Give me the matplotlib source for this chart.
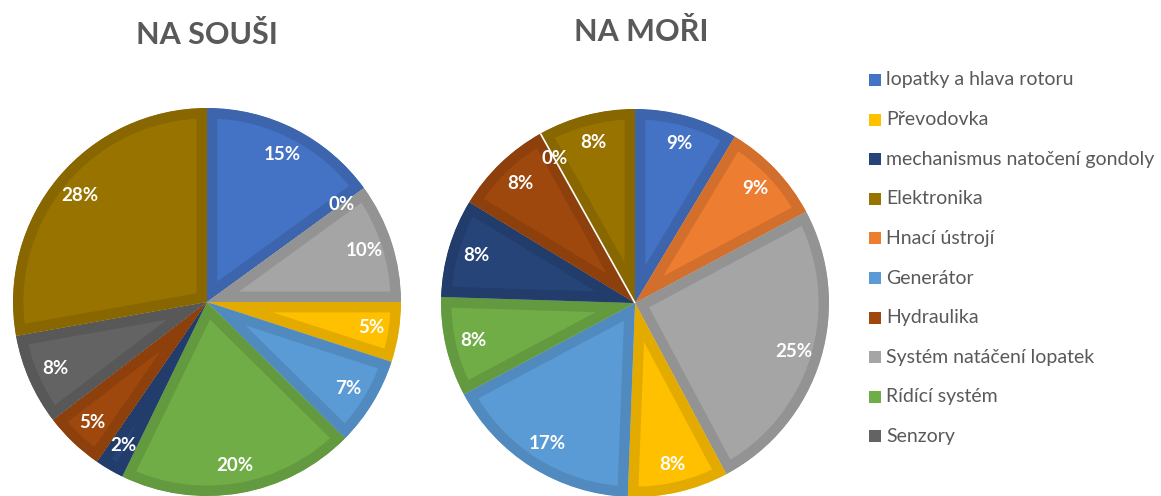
import matplotlib
matplotlib.use("Agg")
import matplotlib.pyplot as plt
from matplotlib.patches import Rectangle
import matplotlib.colors as mcolors
import numpy as np

# ---- data -------------------------------------------------------------
# pie order (clockwise from 12 o'clock)
categories = ["lopatky a hlava rotoru", "Hnací ústrojí", "Systém natáčení lopatek",
              "Převodovka", "Generátor", "Rídící systém",
              "mechanismus natočení gondoly", "Hydraulika", "Senzory", "Elektronika"]
onshore = [15.0, 0.0, 10.0, 5.0, 7.4, 19.8, 2.4, 5.0, 7.6, 27.8]
offshore = [8.6, 8.6, 25.0, 8.4, 16.6, 8.3, 8.2, 8.2, 0.0, 8.1]
colors = {"lopatky a hlava rotoru": "#4472C4", "Hnací ústrojí": "#ED7D31",
          "Systém natáčení lopatek": "#A5A5A5", "Převodovka": "#FFC000",
          "Generátor": "#5B9BD5", "Rídící systém": "#70AD47",
          "mechanismus natočení gondoly": "#264478", "Hydraulika": "#9E480E",
          "Senzory": "#636363", "Elektronika": "#997300"}
legend_order = ["lopatky a hlava rotoru", "Převodovka", "mechanismus natočení gondoly",
                "Elektronika", "Hnací ústrojí", "Generátor", "Hydraulika",
                "Systém natáčení lopatek", "Rídící systém", "Senzory"]
titles = ["NA SOUŠI", "NA MOŘI"]

FONT = ["Lato", "DejaVu Sans"]
TXT = "#595959"
W, H = 1161, 496
fig = plt.figure(figsize=(W / 100, H / 100), dpi=100)


def darker(c, f=0.89):
    r, g, b = mcolors.to_rgb(c)
    return (r * f, g * f, b * f)


def draw_pie(cx, cy, r, values, title, tx, ty, zero_style):
    ax = fig.add_axes([(cx - r) / W, (H - cy - r) / H, 2 * r / W, 2 * r / H])
    cols = [colors[c] for c in categories]
    wedges, texts, autotexts = ax.pie(
        values, colors=cols, startangle=90, counterclock=False,
        autopct="%.0f%%", pctdistance=0.855, radius=1,
        textprops=dict(color="white", fontsize=13.5, fontweight="bold", family=FONT))
    for w, c, v in zip(wedges, cols, values):
        if v == 0:
            if zero_style == "white":
                w.set_edgecolor("white")
                w.set_linewidth(1.2)
                w.set_facecolor("none")
                w.set_zorder(5)
            else:
                w.set_linewidth(0)
                w.set_facecolor("none")
            continue
        w.set_edgecolor(darker(c))
        w.set_linewidth(15)
        w.set_joinstyle("round")
        w.set_clip_on(True)
        w.set_clip_path(w)
    for t in autotexts:
        t.set_zorder(6)
    ax.set_xlim(-1, 1)
    ax.set_ylim(-1, 1)
    ax.set_aspect("equal")
    ax.axis("off")
    fig.text(tx / W, 1 - ty / H, title, ha="center", va="center",
             fontsize=22, fontweight="bold", color=TXT, family=FONT)


draw_pie(207, 302, 194, onshore, titles[0], 207, 35, "none")
draw_pie(635, 303, 194, offshore, titles[1], 641, 32, "white")

# ---- legend -----------------------------------------------------------
lx, ly0, pitch, sq = 869, 80, 39.6, 12
for i, name in enumerate(legend_order):
    y = ly0 + i * pitch
    fig.patches.append(Rectangle(((lx) / W, 1 - (y + sq / 2) / H), sq / W, sq / H,
                                 transform=fig.transFigure, facecolor=colors[name],
                                 edgecolor="none"))
    fig.text((lx + 17) / W, 1 - y / H, name, ha="left", va="center",
             fontsize=14, color=TXT, family=FONT)

fig.savefig("out.png", dpi=100, facecolor="white")
